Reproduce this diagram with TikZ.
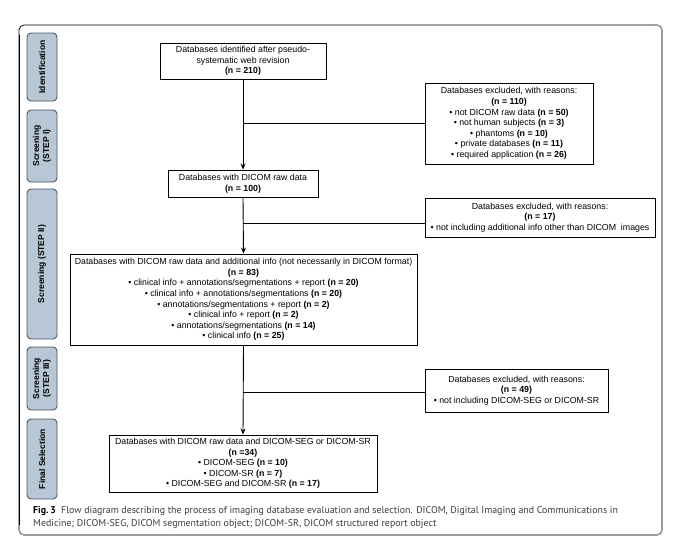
\documentclass[tikz,border=0pt]{standalone}
\usepackage{fontspec}
\setmainfont{Liberation Sans}
\newfontfamily\capfont{PT Sans}
\usetikzlibrary{arrows.meta}
\definecolor{sidefill}{HTML}{B8C7D6}
\definecolor{sidedraw}{HTML}{4A5560}
\definecolor{capgray}{HTML}{3C3C3C}
\newcommand{\nn}[1]{{\bfseries #1}}
\begin{document}
\begin{tikzpicture}[x=1pt,y=-1pt,
  box/.style={draw, line width=0.9pt, align=center, inner sep=1pt,
    font=\fontsize{8.8}{10.6}\selectfont},
  side/.style={draw=sidedraw, fill=sidefill, line width=0.9pt, rounded corners=4pt,
    rotate=90, align=center, inner sep=0pt, minimum height=30pt,
    font=\fontsize{8.5}{10}\selectfont\bfseries},
  arr/.style={-{Stealth[length=6pt,width=5pt]}, line width=0.9pt},
  con/.style={line width=0.9pt},
  captxt/.style={anchor=base west, inner sep=0pt, text=capgray,
    font=\capfont\fontsize{9.9}{12.6}\selectfont}]
\useasboundingbox (0,0) rectangle (681,558);
% frame
\draw[line width=0.8pt, rounded corners=5pt] (19,25) rectangle (662,535);
\draw[line width=1.4pt, gray!80, rounded corners=5pt] (650,25) -- (662,25) -- (662,535) -- (19,535) -- (19,525);
\draw[line width=0.8pt] (19,35) -- (19,525);
% side labels
\node[side, minimum width=68pt] (s1) at (42,67) {Identification};
\node[side, minimum width=72pt] (s2) at (42,146) {Screening\\(STEP I)};
\node[side, minimum width=150pt] (s3) at (42,264) {Screening (STEP II)};
\node[side, minimum width=63pt] (s4) at (42,378.5) {Screening\\(STEP III)};
\node[side, minimum width=80pt] (s5) at (42,459) {Final Selection};
% main boxes
\node[box, minimum width=166pt, minimum height=36pt] (b1) at (243,61)
  {Databases identified after pseudo-\\systematic web revision\\\nn{(n = 210)}};
\node[box, minimum width=150pt, minimum height=27pt] (b2) at (243,183.5)
  {Databases with DICOM raw data\\\nn{(n = 100)}};
\node[box, minimum width=347pt, minimum height=91pt] (b3) at (243.5,299.5)
  {Databases with DICOM raw data and additional info (not necessarily in DICOM format)\\
   \nn{(n = 83)}\\
   • clinical info + annotations/segmentations + report \nn{(n = 20)}\\
   • clinical info + annotations/segmentations \nn{(n = 20)}\\
   • annotations/segmentations + report \nn{(n = 2)}\\
   • clinical info + report \nn{(n = 2)}\\
   • annotations/segmentations \nn{(n = 14)}\\
   • clinical info \nn{(n = 25)}};
\node[box, minimum width=268pt, minimum height=57pt] (b4) at (243,463.5)
  {Databases with DICOM raw data and DICOM-SEG or DICOM-SR\\
   \nn{(n =34)}\\
   • DICOM-SEG \nn{(n = 10)}\\
   • DICOM-SR \nn{(n = 7)}\\
   • DICOM-SEG and DICOM-SR \nn{(n = 17)}};
% exclusion boxes
\node[box, minimum width=168pt, minimum height=81pt] (e1) at (509,123.5)
  {Databases excluded, with reasons:\\
   \nn{(n = 110)}\\
   • not DICOM raw data \nn{(n = 50)}\\
   • not human subjects \nn{(n = 3)}\\
   • phantoms \nn{(n = 10)}\\
   • private databases \nn{(n = 11)}\\
   • required application \nn{(n = 26)}};
\node[box, minimum width=230pt, minimum height=39pt] (e2) at (540,217.5)
  {Databases excluded, with reasons:\\
   \nn{(n = 17)}\\
   • not including additional info other than DICOM\ \ images};
\node[box, minimum width=183pt, minimum height=43pt] (e3) at (516.5,390.5)
  {Databases excluded, with reasons:\\
   \nn{(n = 49)}\\
   • not including DICOM-SEG or DICOM-SR};
% connectors
\coordinate (j1) at (243,123);
\coordinate (j2) at (243,223);
\coordinate (j3) at (243,392);
\draw[arr] (b1.south) -- (b2.north);
\draw[arr] (b2.south) -- (b3.north);
\draw[arr] (b3.south) -- (b4.north);
\draw[con] (j1) -- (e1.west |- j1);
\draw[con] (j2) -- (e2.west |- j2);
\draw[con] (j3) -- (e3.west |- j3);
% caption
\node[captxt] (cap1) at (33,513)
  {{\color{black}\bfseries Fig.\,3}\ \ Flow diagram describing the process of imaging database evaluation and selection. DICOM, Digital Imaging and Communications in};
\node[captxt] (cap2) at (33,526)
  {Medicine; DICOM-SEG, DICOM segmentation object; DICOM-SR, DICOM structured report object};
\end{tikzpicture}
\end{document}
